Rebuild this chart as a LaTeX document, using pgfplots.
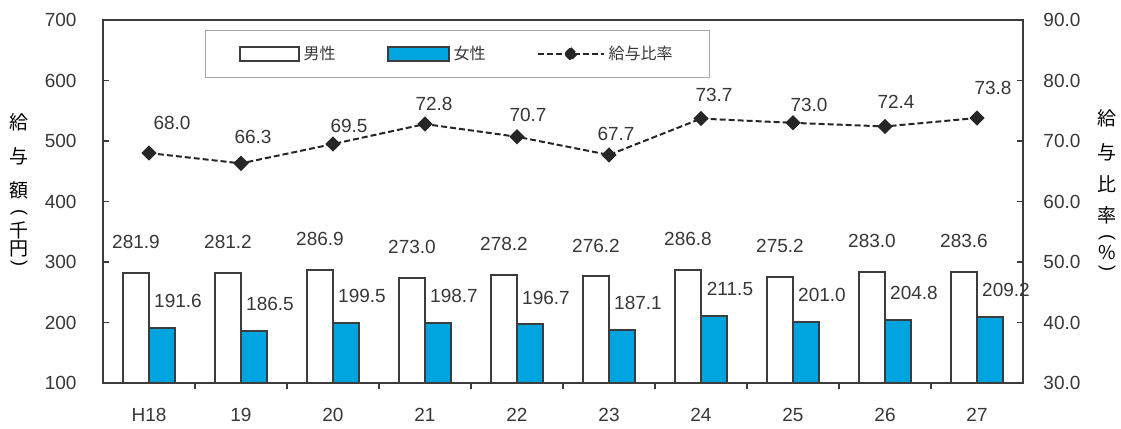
\documentclass[border=0pt]{standalone}
\usepackage{pgfplots}
\pgfplotsset{compat=1.18}
\usepackage{pgfplotstable}
\usepackage{fontspec}
\setmainfont{Liberation Sans}
\newfontfamily\cjk{Noto Sans CJK JP}
\definecolor{fem}{RGB}{0,164,222}
\definecolor{axc}{RGB}{60,60,60}
\definecolor{txt}{RGB}{55,55,55}

\pgfplotstableread{
x male female
0 281.9 191.6
1 281.2 186.5
2 286.9 199.5
3 273.0 198.7
4 278.2 196.7
5 276.2 187.1
6 286.8 211.5
7 275.2 201.0
8 283.0 204.8
9 283.6 209.2
}\bars

\pgfplotstableread{
x r dx dy
0 68.0 11.5 15
1 66.3 6 13
2 69.5 8 9
3 72.8 4.5 10
4 70.7 5.5 11
5 67.7 3.5 10.5
6 73.7 6.5 12
7 73.0 8 9
8 72.4 5.5 12.5
9 73.8 8 15
}\ratio

\pgfplotsset{
  /pgf/number format/assume math mode=true,
  common/.style={
    scale only axis, width=460pt, height=181.5pt,
    xmin=-0.5, xmax=9.5,
    axis line style={draw=axc, line width=1pt},
    tick style={draw=axc, line width=0.6pt},
    major tick length=3pt,
    tick label style={font=\fontsize{9.5}{11}\selectfont, text=txt},
  },
}
\tikzset{
  vl/.style={font=\cjk\fontsize{9.5}{9.5}\selectfont, inner sep=0pt, anchor=center},
  vp/.style={font=\fontsize{9}{9}\selectfont, inner sep=0pt, anchor=center, rotate=-90},
}

\begin{document}
\begin{tikzpicture}
\begin{axis}[common, name=ax,
  ymin=100, ymax=700, ytick={100,200,...,700},
  ytick pos=left,
  yticklabel style={xshift=-9.7pt},
  xtick={0.5,1.5,...,8.5}, xticklabels={},
  xtick pos=bottom,
  extra x ticks={0,1,...,9},
  extra x tick labels={H18,19,20,21,22,23,24,25,26,27},
  extra x tick style={major tick length=0pt, xticklabel style={yshift=-9.3pt}},
  ybar=0pt, bar width=13pt,
]
\addplot[fill=white, draw=axc, line width=1pt,
  nodes near coords, point meta=explicit symbolic,
  every node near coord/.append style={anchor=south, inner sep=0pt, yshift=11.6pt, font=\fontsize{9.5}{11}\selectfont, text=txt}]
  table[x=x, y=male, meta=male] {\bars};
\addplot[fill=fem, draw=axc, line width=1pt,
  nodes near coords, point meta=explicit symbolic,
  every node near coord/.append style={anchor=south, inner sep=0pt, xshift=8pt, yshift=9.6pt, font=\fontsize{9.5}{11}\selectfont, text=txt}]
  table[x=x, y=female, meta=female] {\bars};
\end{axis}

\begin{axis}[common,
  ymin=30, ymax=90, ytick={30,40,...,90},
  axis y line*=right, axis x line=none,
  yticklabel={\pgfmathprintnumber[fixed,fixed zerofill,precision=1]{\tick}},
  yticklabel style={xshift=6.7pt},
  legend columns=3,
  legend style={at={(rel axis cs:0.111,0.972)}, anchor=north west,
    draw=gray!70, line width=0.6pt, inner xsep=16.5pt, inner ysep=5.5pt,
    font=\cjk\fontsize{8}{9}\selectfont, text=txt,
    /tikz/every even column/.append style={column sep=23.5pt}},
]
\addlegendimage{legend image code/.code={\draw[draw=axc, fill=white, line width=1pt] (0pt,-3.5pt) rectangle (29.5pt,3.5pt);}}
\addlegendentry{男性}
\addlegendimage{legend image code/.code={\draw[draw=axc, fill=fem, line width=1pt] (0pt,-3.5pt) rectangle (30.5pt,3.5pt);}}
\addlegendentry{女性}
\addplot[draw=black!85, line width=1pt, dash pattern=on 3pt off 1.5pt,
  mark=square*, mark size=2.2pt, mark options={solid, rotate=45, fill=black!85, draw=black!85},
  legend image code/.code={\draw[black!85, line width=1pt, dash pattern=on 3pt off 1.5pt] (0pt,0pt) -- (33pt,0pt);
     \fill[black!85] (16.5pt,3pt) -- (19.5pt,0pt) -- (16.5pt,-3pt) -- (13.5pt,0pt) -- cycle;},
  nodes near coords, point meta=explicit symbolic,
  visualization depends on={\thisrow{dx} \as \dx},
  visualization depends on={\thisrow{dy} \as \dy},
  every node near coord/.append style={anchor=center, inner sep=0pt, xshift=\dx*1pt, yshift=\dy*1pt, font=\fontsize{9.5}{11}\selectfont, text=txt}]
  table[x=x, y=r, meta=r] {\ratio};
\addlegendentry{給与比率}
\end{axis}

% vertical axis titles (text only)
\node[vl] at ([xshift=-42pt,yshift=-51pt]ax.north west) {給};
\node[vl] at ([xshift=-42pt,yshift=-68pt]ax.north west) {与};
\node[vl] at ([xshift=-42pt,yshift=-85pt]ax.north west) {額};
\node[vp] at ([xshift=-42pt,yshift=-96.5pt]ax.north west) {(};
\node[vl] at ([xshift=-42pt,yshift=-105pt]ax.north west) {千};
\node[vl] at ([xshift=-42pt,yshift=-114.5pt]ax.north west) {円};
\node[vp] at ([xshift=-42pt,yshift=-122pt]ax.north west) {)};

\node[vl] at ([xshift=42pt,yshift=-49pt]ax.north east) {給};
\node[vl] at ([xshift=42pt,yshift=-66pt]ax.north east) {与};
\node[vl] at ([xshift=42pt,yshift=-82pt]ax.north east) {比};
\node[vl] at ([xshift=42pt,yshift=-97.5pt]ax.north east) {率};
\node[vp] at ([xshift=42pt,yshift=-109pt]ax.north east) {(};
\node[vl] at ([xshift=42pt,yshift=-116.5pt]ax.north east) {\%};
\node[vp] at ([xshift=42pt,yshift=-124.5pt]ax.north east) {)};

\pgfresetboundingbox
\path ([xshift=-51.5pt,yshift=-23pt]ax.south west) rectangle ([xshift=49pt,yshift=10pt]ax.north east);
\end{tikzpicture}
\end{document}
